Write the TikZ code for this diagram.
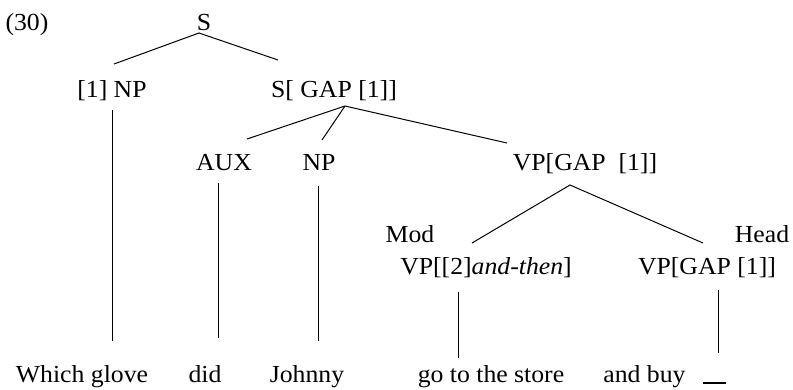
\documentclass[tikz,border=0pt]{standalone}
\usepackage{fontspec}
\setmainfont{Liberation Serif}[FakeStretch=1.05]
\begin{document}
\begin{tikzpicture}[x=1pt,y=-1pt,
  lbl/.style={font=\fontsize{24.5}{28}\selectfont, inner sep=0pt, anchor=base},
  branch/.style={line width=1pt, black}]
\useasboundingbox (0,0) rectangle (793,389);
% labels
\node[lbl] (ex) at (27,30) {(30)};
\node[lbl] (S) at (204,30) {S};
\node[lbl] (NPa) at (112,97) {[1]\ NP};
\node[lbl] (SG) at (334,97) {S[\ GAP [1]]};
\node[lbl] (AUX) at (224,170) {AUX};
\node[lbl] (NPb) at (319,170) {NP};
\node[lbl] (VPG) at (585,170) {VP[GAP\ \ [1]]};
\node[lbl] (Mod) at (410,242) {Mod};
\node[lbl] (Head) at (762,242) {Head};
\node[lbl] (VPM) at (486,274) {VP[[2]\textit{and-then}]};
\node[lbl] (VPH) at (707,274) {VP[GAP\ [1]]};
\node[lbl] (w1) at (82,382) {Which\ glove};
\node[lbl] (w2) at (205,382) {did};
\node[lbl] (w3) at (307,382) {Johnny};
\node[lbl] (w4) at (491,382) {go to the store};
\node[lbl] (w5) at (644.5,382) {and buy};
\node[lbl] (w6) at (714.5,382) {\rule[-1.5pt]{23pt}{1.2pt}};
% branch end points
\coordinate (Sb) at (199,33);
\coordinate (NPat) at (114,64);
\coordinate (SGt) at (278,60);
\coordinate (NPab) at (112,110);
\coordinate (w1t) at (112,341);
\coordinate (SGb) at (345,106);
\coordinate (AUXt) at (247,139);
\coordinate (NPbt) at (322,140);
\coordinate (VPGt) at (507,143);
\coordinate (AUXb) at (218,183);
\coordinate (w2t) at (218,338);
\coordinate (NPbb) at (318,186);
\coordinate (w3t) at (318,341);
\coordinate (VPGb) at (570,185);
\coordinate (VPMt) at (472,243);
\coordinate (VPHt) at (703,243);
\coordinate (VPMb) at (458,292);
\coordinate (w4t) at (458,358);
\coordinate (VPHb) at (718,290);
\coordinate (w6t) at (718,353);
% branches
\draw[branch] (NPat) -- (Sb) -- (SGt);
\draw[branch] (NPab) -- (w1t);
\draw[branch] (SGb) -- (AUXt);
\draw[branch] (SGb) -- (NPbt);
\draw[branch] (SGb) -- (VPGt);
\draw[branch] (AUXb) -- (w2t);
\draw[branch] (NPbb) -- (w3t);
\draw[branch] (VPMt) -- (VPGb) -- (VPHt);
\draw[branch] (VPMb) -- (w4t);
\draw[branch] (VPHb) -- (w6t);
\end{tikzpicture}
\end{document}
